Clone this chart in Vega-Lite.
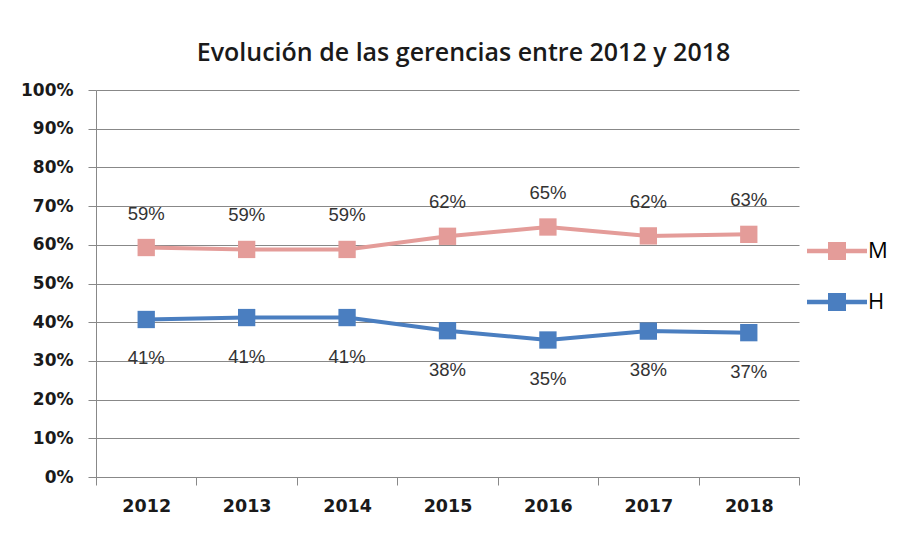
{
  "$schema": "https://vega.github.io/schema/vega-lite/v6.json",
  "width": 703,
  "height": 387,
  "autosize": {"type": "none"},
  "padding": {"left": 96, "top": 90, "right": 102, "bottom": 59},
  "background": "white",
  "title": {
    "text": "Evolución de las gerencias entre 2012 y 2018",
    "anchor": "middle",
    "dx": 16,
    "offset": 15,
    "font": "Open Sans",
    "fontSize": 25,
    "fontWeight": 600,
    "color": "#1a1a1a"
  },
  "data": {
    "values": [
      {"anio": "2012", "serie": "M", "valor": 0.593},
      {"anio": "2013", "serie": "M", "valor": 0.588},
      {"anio": "2014", "serie": "M", "valor": 0.588},
      {"anio": "2015", "serie": "M", "valor": 0.622},
      {"anio": "2016", "serie": "M", "valor": 0.646},
      {"anio": "2017", "serie": "M", "valor": 0.623},
      {"anio": "2018", "serie": "M", "valor": 0.627},
      {"anio": "2012", "serie": "H", "valor": 0.407},
      {"anio": "2013", "serie": "H", "valor": 0.412},
      {"anio": "2014", "serie": "H", "valor": 0.412},
      {"anio": "2015", "serie": "H", "valor": 0.378},
      {"anio": "2016", "serie": "H", "valor": 0.354},
      {"anio": "2017", "serie": "H", "valor": 0.377},
      {"anio": "2018", "serie": "H", "valor": 0.373}
    ]
  },
  "encoding": {
    "x": {
      "field": "anio",
      "type": "ordinal",
      "scale": {"type": "band", "paddingInner": 0, "paddingOuter": 0},
      "axis": {
        "title": null,
        "labelAngle": 0,
        "tickBand": "extent",
        "tickSize": 8,
        "tickColor": "#888888",
        "domainColor": "#888888",
        "labelFont": "DejaVu Sans",
        "labelFontWeight": "bold",
        "labelFontSize": 17.5,
        "labelColor": "#1a1a1a",
        "labelPadding": 12,
        "grid": false
      }
    },
    "y": {
      "field": "valor",
      "type": "quantitative",
      "scale": {"domain": [0, 1], "nice": false},
      "axis": {
        "title": null,
        "format": ".0%",
        "values": [0, 0.1, 0.2, 0.3, 0.4, 0.5, 0.6, 0.7, 0.8, 0.9, 1],
        "tickSize": 8,
        "tickColor": "#888888",
        "domainColor": "#888888",
        "gridColor": "#888888",
        "gridOpacity": 1,
        "labelFont": "DejaVu Sans",
        "labelFontWeight": "bold",
        "labelFontSize": 17,
        "labelColor": "#1a1a1a",
        "labelPadding": 15
      }
    },
    "color": {
      "field": "serie",
      "type": "nominal",
      "scale": {"domain": ["M", "H"], "range": ["#E49C99", "#4A7EC0"]},
      "legend": {
        "title": null,
        "orient": "none",
        "legendX": 711,
        "legendY": 131,
        "symbolType": "M-1,-0.075H1V0.075H-1Z M-0.3,-0.3H0.3V0.3H-0.3Z",
        "symbolSize": 3600,
        "symbolStrokeWidth": 0,
        "symbolOpacity": 1,
        "rowPadding": 10,
        "labelFont": "Open Sans",
        "labelFontSize": 22,
        "labelColor": "#000000",
        "labelOffset": 1,
        "encode": {
          "symbols": {
            "update": {
              "fill": {"scale": "color", "field": "value"},
              "strokeWidth": {"value": 0},
              "opacity": {"value": 1}
            }
          }
        }
      }
    }
  },
  "layer": [
    {
      "mark": {"type": "line", "strokeWidth": 4}
    },
    {
      "mark": {"type": "point", "shape": "square", "filled": true, "size": 300, "opacity": 1, "strokeWidth": 0}
    },
    {
      "transform": [{"filter": "datum.serie == 'M'"}],
      "mark": {"type": "text", "dy": -34, "font": "Liberation Sans", "fontSize": 18.5},
      "encoding": {"text": {"field": "valor", "type": "quantitative", "format": ".0%"}, "color": {"value": "#333333"}}
    },
    {
      "transform": [{"filter": "datum.serie == 'H'"}],
      "mark": {"type": "text", "dy": 39, "font": "Liberation Sans", "fontSize": 18.5},
      "encoding": {"text": {"field": "valor", "type": "quantitative", "format": ".0%"}, "color": {"value": "#333333"}}
    }
  ],
  "config": {
    "view": {"stroke": null}
  }
}
